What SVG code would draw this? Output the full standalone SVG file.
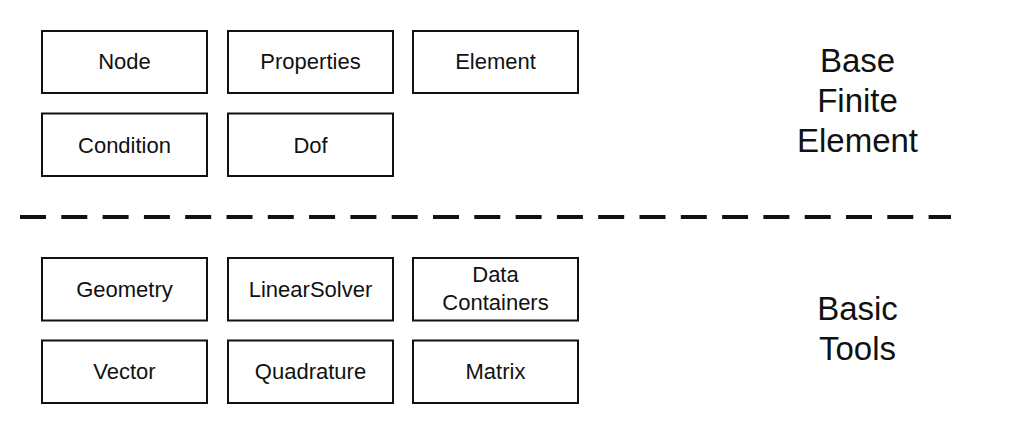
<svg xmlns="http://www.w3.org/2000/svg" width="1012" height="431" viewBox="0 0 1012 431">
<style>
.box{fill:#fff;stroke:#111;stroke-width:2}
.lbl{font-family:"Liberation Sans",Arial,sans-serif;font-size:22px;fill:#111;text-anchor:middle}
.big{font-family:"Liberation Sans",Arial,sans-serif;font-size:33px;fill:#111;text-anchor:middle}
.sep{stroke:#111;stroke-width:4;stroke-dasharray:26 15.3;fill:none}
</style>
<rect width="1012" height="431" fill="#fff"/>
<g id="node"><rect class="box" x="42" y="31" width="165" height="62"/><text class="lbl" x="124.5" y="69">Node</text></g>
<g id="properties"><rect class="box" x="228" y="31" width="165" height="62"/><text class="lbl" x="310.5" y="69">Properties</text></g>
<g id="element"><rect class="box" x="413" y="31" width="165" height="62"/><text class="lbl" x="495.5" y="69">Element</text></g>
<g id="condition"><rect class="box" x="42" y="113.5" width="165" height="62.5"/><text class="lbl" x="124.5" y="152.5">Condition</text></g>
<g id="dof"><rect class="box" x="228" y="113.5" width="165" height="62.5"/><text class="lbl" x="310.5" y="152.5">Dof</text></g>
<g id="base-finite-element"><text class="big" x="857.5" y="72.3">Base</text><text class="big" x="857.5" y="112.3">Finite</text><text class="big" x="857.5" y="152.3">Element</text></g>
<g id="connectors"><line class="sep" x1="20" y1="217" x2="951" y2="217"/></g>
<g id="geometry"><rect class="box" x="42" y="258" width="165" height="62.5"/><text class="lbl" x="124.5" y="297">Geometry</text></g>
<g id="linearsolver"><rect class="box" x="228" y="258" width="165" height="62.5"/><text class="lbl" x="310.5" y="297">LinearSolver</text></g>
<g id="datacontainers"><rect class="box" x="413" y="258" width="165" height="62.5"/><text class="lbl" x="495.5" y="282">Data</text><text class="lbl" x="495.5" y="309.5">Containers</text></g>
<g id="vector"><rect class="box" x="42" y="340.5" width="165" height="62.5"/><text class="lbl" x="124.5" y="379">Vector</text></g>
<g id="quadrature"><rect class="box" x="228" y="340.5" width="165" height="62.5"/><text class="lbl" x="310.5" y="379">Quadrature</text></g>
<g id="matrix"><rect class="box" x="413" y="340.5" width="165" height="62.5"/><text class="lbl" x="495.5" y="379">Matrix</text></g>
<g id="basic-tools"><text class="big" x="857.5" y="319.5">Basic</text><text class="big" x="857.5" y="360">Tools</text></g>
</svg>
